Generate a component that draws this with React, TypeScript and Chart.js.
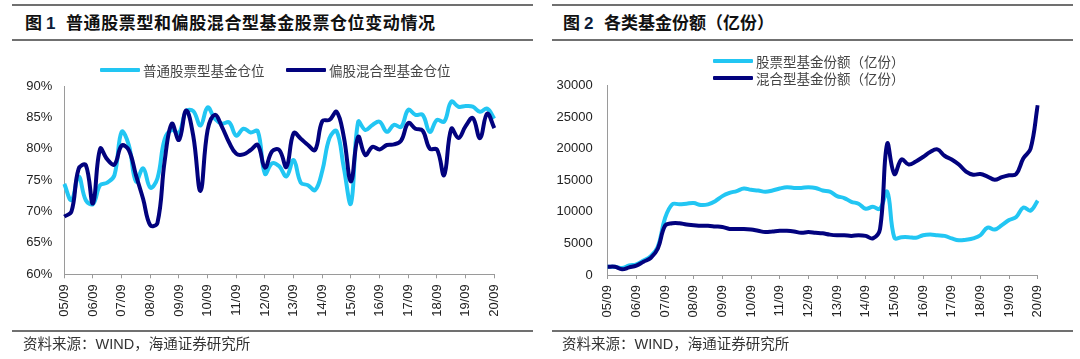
import React, { useEffect, useRef } from "react";
import { Chart, registerables } from "chart.js";

Chart.register(...registerables);

// ---------- data ----------
const quarters = [
  "05/09", "05/12",
  "06/03", "06/06", "06/09", "06/12",
  "07/03", "07/06", "07/09", "07/12",
  "08/03", "08/06", "08/09", "08/12",
  "09/03", "09/06", "09/09", "09/12",
  "10/03", "10/06", "10/09", "10/12",
  "11/03", "11/06", "11/09", "11/12",
  "12/03", "12/06", "12/09", "12/12",
  "13/03", "13/06", "13/09", "13/12",
  "14/03", "14/06", "14/09", "14/12",
  "15/03", "15/06", "15/09", "15/12",
  "16/03", "16/06", "16/09", "16/12",
  "17/03", "17/06", "17/09", "17/12",
  "18/03", "18/06", "18/09", "18/12",
  "19/03", "19/06", "19/09", "19/12",
  "20/03", "20/06", "20/09",
];

// Figure 1: equity positions (%)
const stockFundPosition = [
  74.4, 71.8, 75.6, 71.8, 71.2, 74.2, 74.6, 75.8, 82.7, 80.6,
  74.8, 76.9, 73.8, 75.3, 81.5, 83.0, 82.5, 86.0, 86.0, 83.7,
  86.6, 84.8, 84.0, 84.2, 82.1, 83.2, 82.6, 82.8, 76.0, 77.7,
  77.2, 75.6, 78.2, 74.6, 74.2, 73.4, 76.5, 81.7, 82.8, 77.0,
  71.3, 84.3, 83.0, 83.8, 84.3, 82.7, 83.8, 83.5, 86.2, 85.4,
  85.4, 82.7, 84.6, 84.3, 87.5, 86.7, 86.8, 86.7, 85.9, 86.4,
  84.8,
];
const hybridFundPosition = [
  69.2, 70.0, 76.8, 77.4, 71.3, 80.0, 78.3, 77.5, 80.5, 79.8,
  75.8, 72.0, 67.8, 68.2, 78.0, 84.0, 81.4, 86.1, 82.0, 73.3,
  83.0, 85.4, 83.5, 81.0, 79.2, 79.1, 79.8, 80.6, 77.0, 79.6,
  79.8, 77.1, 82.5, 81.6, 80.6, 79.8, 84.4, 84.6, 85.9, 81.9,
  74.8, 81.9, 79.0, 80.3, 79.9, 80.6, 80.7, 81.3, 84.1, 83.2,
  82.9, 80.0, 79.9, 75.8, 83.2, 81.7, 83.6, 84.9, 81.7, 85.6,
  83.3,
];

// Figure 2: fund shares (100 million units)
const stockFundShares = [
  1300, 1300, 1100, 1500, 1700, 2300, 3000, 4500, 9000, 11200,
  11200, 11300, 11400, 11100, 11200, 11700, 12500, 13000, 13300, 13700,
  13500, 13400, 13200, 13400, 13700, 13900, 13800, 13800, 13900, 13800,
  13400, 13200, 12500, 12200, 11600, 11300, 10500, 10800, 10500, 13200,
  5900, 6000, 6000, 5900, 6300, 6400, 6300, 6200, 5800, 5500,
  5600, 5800, 6300, 7500, 7200, 7900, 8700, 9200, 10700, 10200,
  11800,
];
const hybridFundShares = [
  1300, 1300, 900, 1200, 1500, 2100, 2700, 4200, 7800, 8200,
  8200, 8000, 7900, 7800, 7800, 7700, 7600, 7300, 7300, 7300,
  7200, 7000, 6800, 6900, 7000, 7000, 6900, 6700, 6800, 6700,
  6600, 6400, 6300, 6300, 6200, 6300, 6200, 5800, 7300, 20800,
  16000, 18300, 17500, 18000, 18700, 19500, 19900, 18900, 18300, 17500,
  16400, 15900, 16000, 15600, 15100, 15500, 15800, 16000, 18500, 20000,
  26900,
];

const fig1Labels = ["普通股票型基金仓位", "偏股混合型基金仓位"];
const fig2Labels = ["股票型基金份额（亿份）", "混合型基金份额（亿份）"];
const fig1Title = ["图", "1", "普通股票型和偏股混合型基金股票仓位变动情况"];
const fig2Title = ["图", "2", "各类基金份额（亿份）"];
const sourceText = "资料来源：WIND，海通证券研究所";

// ---------- styles ----------
const LIGHT = "#22c6f3";
const DARK = "#02027e";
const AXIS = "#9a9a9a";
const LATIN = "'Liberation Sans', Arial, 'Noto Sans CJK SC', sans-serif";
const CJK = "'Liberation Sans', 'Noto Sans CJK SC', sans-serif";

type ChartProps = {
  left: number;
  top: number;
  width: number;
  height: number;
  light: number[];
  dark: number[];
  names: string[];
  yMin: number;
  yMax: number;
  yStep: number;
  suffix: string;
  yWidth: number;
  yPad: number;
  padding: { left: number; right: number; top: number; bottom: number };
};

function LineChart(p: ChartProps) {
  const ref = useRef<HTMLCanvasElement>(null);
  useEffect(() => {
    const chart = new Chart(ref.current as HTMLCanvasElement, {
      type: "line",
      data: {
        labels: quarters,
        datasets: [
          {
            label: p.names[0],
            data: p.light,
            borderColor: LIGHT,
            backgroundColor: LIGHT,
            borderWidth: 4,
            pointRadius: 0,
            tension: 0.4,
            fill: false,
            order: 2,
          },
          {
            label: p.names[1],
            data: p.dark,
            borderColor: DARK,
            backgroundColor: DARK,
            borderWidth: 4,
            pointRadius: 0,
            tension: 0.4,
            fill: false,
            order: 1,
          },
        ],
      },
      options: {
        responsive: false,
        animation: false,
        devicePixelRatio: 1,
        layout: { padding: p.padding },
        plugins: {
          legend: { display: false },
          tooltip: { enabled: false },
          title: { display: false },
        },
        scales: {
          x: {
            type: "category",
            offset: false,
            border: { display: true, color: AXIS, width: 1 },
            grid: {
              display: true,
              drawOnChartArea: false,
              drawTicks: true,
              tickLength: 4,
              color: AXIS,
            },
            ticks: {
              autoSkip: false,
              minRotation: 90,
              maxRotation: 90,
              padding: 6,
              color: "#222",
              font: { family: LATIN, size: 13 },
              callback: function (this: any, value: any) {
                const l = this.getLabelForValue(value) as string;
                return l.endsWith("/09") ? l : null;
              },
            },
            afterFit: (s: any) => {
              s.height = 50;
            },
          },
          y: {
            min: p.yMin,
            max: p.yMax,
            border: { display: true, color: AXIS, width: 1 },
            grid: { display: false, drawTicks: false },
            ticks: {
              stepSize: p.yStep,
              padding: p.yPad,
              color: "#222",
              font: { family: LATIN, size: 13 },
              callback: (v: any) => `${v}${p.suffix}`,
            },
            afterFit: (s: any) => {
              s.width = p.yWidth;
            },
          },
        },
      },
    });
    return () => chart.destroy();
  }, []);
  return (
    <canvas
      ref={ref}
      width={p.width}
      height={p.height}
      style={{ position: "absolute", left: p.left, top: p.top, width: p.width, height: p.height }}
    />
  );
}

function Rule({ left, top, width }: { left: number; top: number; width: number }) {
  return (
    <div
      style={{ position: "absolute", left, top, width, height: 2, background: "#707070" }}
    />
  );
}

const titleStyle: React.CSSProperties = {
  position: "absolute",
  top: 10,
  height: 28,
  lineHeight: "28px",
  fontFamily: CJK,
  fontWeight: 700,
  fontSize: 17,
  color: "#111",
  whiteSpace: "pre",
};

function Title({ left, parts, spacing }: { left: number; parts: string[]; spacing: number }) {
  return (
    <>
      <div style={{ ...titleStyle, left }}>{parts[0]}</div>
      <div style={{ ...titleStyle, left: left + 21, color: "#0d1d3a" }}>{parts[1]}</div>
      <div style={{ ...titleStyle, left: left + 41, letterSpacing: spacing }}>{parts[2]}</div>
    </>
  );
}

function LegendItem({
  left,
  cy,
  color,
  text,
  lineWidth,
}: {
  left: number;
  cy: number;
  color: string;
  text: string;
  lineWidth: number;
}) {
  return (
    <>
      <div
        style={{
          position: "absolute",
          left,
          top: cy - 2,
          width: lineWidth,
          height: 4,
          background: color,
          borderRadius: 1,
        }}
      />
      <div
        style={{
          position: "absolute",
          left: left + lineWidth + 3,
          top: cy - 10,
          height: 20,
          lineHeight: "20px",
          fontFamily: "'Noto Sans CJK SC', sans-serif",
          fontSize: 13.5,
          color: "#444",
          whiteSpace: "pre",
        }}
      >
        {text}
      </div>
    </>
  );
}

function Source({ left }: { left: number }) {
  return (
    <div
      style={{
        position: "absolute",
        left,
        top: 334,
        height: 20,
        lineHeight: "20px",
        fontFamily: CJK,
        fontSize: 14.5,
        color: "#333",
        whiteSpace: "pre",
      }}
    >
      {sourceText}
    </div>
  );
}

export default function App() {
  return (
    <div
      style={{
        position: "absolute",
        left: 0,
        top: 0,
        width: 1080,
        height: 359,
        overflow: "hidden",
        background: "#fff",
      }}
    >
      {/* Figure 1 */}
      <Rule left={12} top={4} width={521} />
      <Title left={25} parts={fig1Title} spacing={0.6} />
      <Rule left={12} top={39} width={521} />
      <LineChart
        left={0}
        top={60}
        width={540}
        height={299}
        light={stockFundPosition}
        dark={hybridFundPosition}
        names={fig1Labels}
        yMin={60}
        yMax={90}
        yStep={5}
        suffix="%"
        yWidth={64.3}
        yPad={12}
        padding={{ left: 0, right: 45.7, top: 26, bottom: 34.7 }}
      />
      <LegendItem left={100} cy={70} color={LIGHT} text={fig1Labels[0]} lineWidth={40} />
      <LegendItem left={286} cy={70} color={DARK} text={fig1Labels[1]} lineWidth={40} />
      <Rule left={12} top={330} width={521} />
      <Source left={23} />

      {/* Figure 2 */}
      <Rule left={552} top={4} width={521} />
      <Title left={563} parts={fig2Title} spacing={0} />
      <Rule left={552} top={39} width={521} />
      <LineChart
        left={540}
        top={60}
        width={540}
        height={299}
        light={stockFundShares}
        dark={hybridFundShares}
        names={fig2Labels}
        yMin={0}
        yMax={30000}
        yStep={5000}
        suffix=""
        yWidth={67.7}
        yPad={15}
        padding={{ left: 0, right: 42.3, top: 25.7, bottom: 34 }}
      />
      <LegendItem left={713} cy={61} color={LIGHT} text={fig2Labels[0]} lineWidth={40} />
      <LegendItem left={713} cy={78} color={DARK} text={fig2Labels[1]} lineWidth={40} />
      <Rule left={552} top={330} width={521} />
      <Source left={562} />
    </div>
  );
}
